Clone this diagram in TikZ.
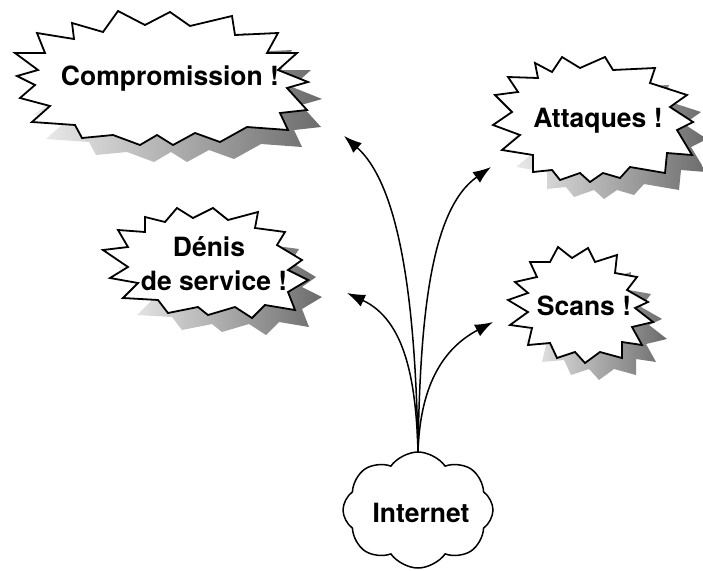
\documentclass[tikz,border=0pt]{standalone}
\usepackage{fontspec}
\setmainfont{TeX Gyre Heros}
\usetikzlibrary{shapes.symbols,arrows.meta}
\newcommand\compburst[1]{\path[#1] (118,11) -- (145,25) -- (170,12) -- (190,26) -- (232,16) -- (235,35) -- (278,33) -- (267,53) -- (297,53) -- (278,70) -- (308,82) -- (287,88) -- (307,110) -- (280,113) -- (288,130) -- (247,127) -- (220,142) -- (195,133) -- (173,145) -- (157,135) -- (140,145) -- (113,135) -- (82,138) -- (75,125) -- (32,122) -- (50,106) -- (20,98) -- (35,85) -- (17,76) -- (38,70) -- (15,53) -- (45,53) -- (37,33) -- (74,39) -- (72,23) -- (103,32) -- cycle;}
\newcommand\attburst[1]{\path[#1] (562,57) -- (580,68) -- (605,57) -- (613,70) -- (655,68) -- (650,83) -- (687,95) -- (670,107) -- (693,122) -- (677,130) -- (692,155) -- (667,153) -- (665,173) -- (630,167) -- (620,178) -- (603,173) -- (590,182) -- (580,173) -- (560,180) -- (552,170) -- (533,172) -- (533,155) -- (502,150) -- (520,135) -- (493,125) -- (512,112) -- (495,95) -- (518,92) -- (508,77) -- (538,78) -- (535,63) -- (552,72) -- cycle;}
\newcommand\denburst[1]{\path[#1] (177,208) -- (193,218) -- (213,208) -- (228,220) -- (258,212) -- (255,228) -- (285,232) -- (277,245) -- (302,260) -- (288,270) -- (308,280) -- (288,292) -- (295,310) -- (265,305) -- (252,318) -- (235,307) -- (208,315) -- (198,307) -- (168,313) -- (158,300) -- (123,298) -- (138,283) -- (110,278) -- (128,267) -- (103,250) -- (128,247) -- (118,230) -- (145,232) -- (145,217) -- (165,222) -- cycle;}
\newcommand\scanburst[1]{\path[#1] (558,247) -- (572,258) -- (588,248) -- (595,262) -- (617,255) -- (615,273) -- (637,277) -- (627,290) -- (648,302) -- (635,308) -- (653,322) -- (632,327) -- (642,345) -- (622,342) -- (622,358) -- (600,352) -- (585,363) -- (575,352) -- (557,358) -- (550,343) -- (528,345) -- (532,328) -- (510,325) -- (528,312) -- (508,300) -- (528,293) -- (515,282) -- (537,277) -- (530,262) -- (550,262) -- cycle;}
\begin{document}
\begin{tikzpicture}[x=1pt,y=-1pt,
  burstline/.style={draw=black, line width=1.8pt, line join=miter, fill=white},
  burstshade/.style={shift={(14,17)}, left color=black!6, middle color=black!28, right color=black!58},
  lbl/.style={font=\bfseries\fontsize{26.5}{34}\selectfont, align=center, inner sep=0pt},
  arr/.style={line width=1.5pt, -{Latex[length=18pt,width=13pt]}},
  cloudbox/.style={cloud, draw=black, line width=1.5pt, fill=white, cloud puffs=8, cloud puff arc=110, aspect=1.3, inner sep=0pt},
]
\useasboundingbox (0,0) rectangle (703,570);
% shadows
\compburst{burstshade}
\attburst{burstshade}
\denburst{burstshade}
\scanburst{burstshade}
% outlines
\compburst{burstline}
\attburst{burstline}
\denburst{burstline}
\scanburst{burstline}
% labels
\node[lbl, anchor=base] (comp) at (170,85) {Compromission !};
\node[lbl, anchor=base] (att) at (598,127) {Attaques !};
\node[lbl] (den) at (214,264) {\hspace*{-10pt}Dénis\\de service !};
\node[lbl, anchor=base] (scan) at (584,315) {Scans !};
% Internet
\node[cloudbox, minimum width=150pt, minimum height=116pt] (inet) at (418,510) {};
\node[lbl, anchor=base] (inettxt) at (421,522) {Internet};
\coordinate (src) at (418,452);
\coordinate (tc) at (344,136);
\coordinate (ta) at (491,167);
\coordinate (td) at (347,293);
\coordinate (ts) at (493,322);
\draw[arr] (src) .. controls (416,330) and (405,190) .. (tc);
\draw[arr] (src) .. controls (420,320) and (430,210) .. (ta);
\draw[arr] (src) .. controls (416,380) and (405,320) .. (td);
\draw[arr] (src) .. controls (420,390) and (440,350) .. (ts);
\end{tikzpicture}
\end{document}
